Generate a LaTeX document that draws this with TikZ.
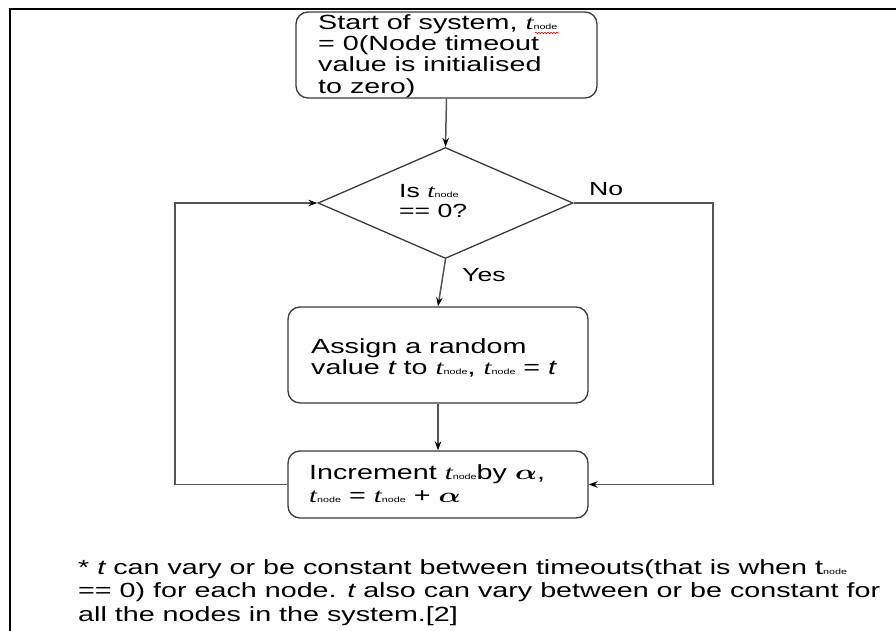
\documentclass[tikz,border=0pt]{standalone}
\usepackage{fontspec}
\setmainfont{Liberation Sans}[FakeStretch=1.4]
\newfontfamily\serifit{Liberation Serif}[FakeStretch=1.4]
\usepackage{amsmath}
\usetikzlibrary{shapes.geometric,arrows.meta,decorations.pathmorphing}

\definecolor{boxline}{HTML}{3A3A3A}
\definecolor{linegray}{HTML}{555555}

% t with a small "node" index, as set in the flow chart
\newcommand{\tnode}{{\serifit\itshape t}{\fontsize{7.7}{8}\selectfont node}}
\newcommand{\tnodeup}{t{\fontsize{7.7}{8}\selectfont node}}
\newcommand{\alphab}{\scalebox{1.4}[1]{$\boldsymbol{\alpha}$}}

\begin{document}
\begin{tikzpicture}[x=1pt,y=-1pt,
  box/.style={draw=boxline, line width=1.3pt, rounded corners=12pt, inner sep=0pt, fill=white},
  decision/.style={diamond, draw=boxline, line width=1.3pt, inner sep=0pt, fill=white,
    minimum width=255pt, minimum height=111pt},
  % multi-line texts are placed by the baseline of their last line
  txt/.style={inner sep=0pt, align=left, anchor=base west},
  flow/.style={draw=linegray, line width=1.5pt, -{Stealth[length=9pt,width=6.5pt,color=black]}},
  plain/.style={draw=linegray, line width=1.5pt}]

\useasboundingbox (0,0) rectangle (896,631);

% page frame (top and left edges)
\draw[line width=2.2pt] (10,631) -- (10,9) -- (896,9);

% boxes
\node[box, minimum width=301pt, minimum height=86pt] (start) at (446.5,55) {};
\node[decision] (dia) at (445.5,203) {};
\node[box, minimum width=300pt, minimum height=96pt] (assign) at (438,355) {};
\node[box, minimum width=300pt, minimum height=67pt] (incr) at (438,484.5) {};

% box texts
\node[txt, font=\fontsize{20.5}{21.3}\selectfont] (starttext) at (318,93.2)
  {Start of system, \tnode\\= 0(Node timeout\\value is initialised\\to zero)};
\draw[red!85!black, line width=0.6pt, decorate,
  decoration={snake, amplitude=0.8pt, segment length=3pt}] (535,33) -- (559,33);
\node[txt, font=\fontsize{19}{20}\selectfont] (diatext) at (399,217) {Is \tnode\\== 0?};
\node[txt, font=\fontsize{20.5}{21}\selectfont] (assigntext) at (311,374)
  {Assign a random\\value {\itshape t} to \tnode, \tnode\ = {\itshape t}};
\node[txt, font=\fontsize{20.5}{23}\selectfont] (incrtext) at (309,502)
  {Increment \tnode by \alphab,\\\tnode\ = \tnode\ + \alphab};

% branch labels
\node[txt, font=\fontsize{19}{20}\selectfont] (yes) at (462,281) {Yes};
\node[txt, font=\fontsize{19}{20}\selectfont] (no) at (589,196) {No};

% connectors
\coordinate (noturn) at (713,203);
\coordinate (loopturn) at (175,484.5);
\draw[flow] (start.south) -- (dia.north);
\draw[flow] (dia.south) -- (assign.north);
\draw[flow] (assign.south) -- (incr.north);
\draw[flow] (dia.east) -- (noturn) |- (incr.east);
\draw[flow] (incr.west) -- (loopturn) |- (dia.west);

% footnote
\node[txt, font=\fontsize{20.5}{23.5}\selectfont] (note) at (78,621)
  {* {\itshape t} can vary or be constant between timeouts(that is when \tnodeup\\
   == 0) for each node. {\itshape t} also can vary between or be constant for\\
   all the nodes in the system.[2]};
\end{tikzpicture}
\end{document}
